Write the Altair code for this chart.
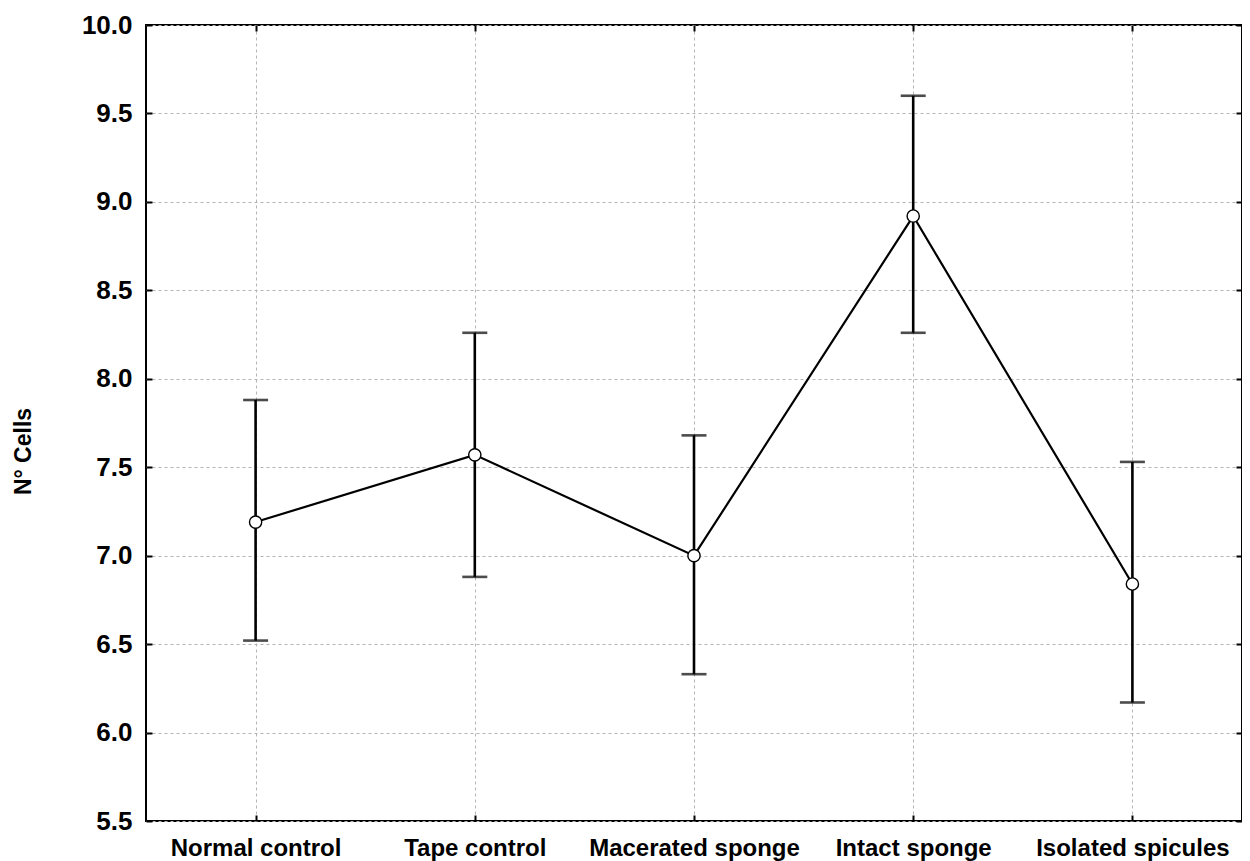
import altair as alt
import pandas as pd

categories = ["Normal control", "Tape control", "Macerated sponge", "Intact sponge", "Isolated spicules"]
means = [7.19, 7.57, 7.00, 8.92, 6.84]
upper = [7.88, 8.26, 7.68, 9.60, 7.53]
lower = [6.52, 6.88, 6.33, 8.26, 6.17]
y_ticks = [5.5, 6.0, 6.5, 7.0, 7.5, 8.0, 8.5, 9.0, 9.5, 10.0]

df = pd.DataFrame({"cat": categories, "mean": means, "upper": upper, "lower": lower})

FONT = "Liberation Sans"
xscale = alt.Scale(type="point", domain=categories, padding=0.5)
yscale = alt.Scale(domain=[5.5, 10.0], nice=False, zero=False)

x_bottom = alt.X("cat:N", sort=categories, scale=xscale, title=None,
                 axis=alt.Axis(orient="bottom", labelAngle=0, grid=True, domain=False,
                               ticks=True, tickSize=6, offset=-6, labelPadding=15, labelLimit=0,
                               labelFontSize=24, labelFont=FONT, labelFontWeight="bold",
                               labelColor="black"))
y_left = alt.Y("mean:Q", scale=yscale, title="N° Cells",
               axis=alt.Axis(orient="left", values=y_ticks, format=".1f", grid=True, domain=False,
                             ticks=True, tickSize=6, offset=-6, labelPadding=14,
                             labelFontSize=26, labelFont=FONT, labelFontWeight="bold",
                             labelColor="black", titleFontSize=23, titleFont=FONT,
                             titleFontWeight="bold", titleColor="black", titlePadding=46,
                             titleY=426))

x_top = alt.X("cat:N", sort=categories, scale=xscale, title=None,
              axis=alt.Axis(orient="top", labels=False, grid=False, domain=False,
                            ticks=True, tickSize=6, offset=-6))
y_right = alt.Y("mean:Q", scale=yscale, title=None,
                axis=alt.Axis(orient="right", values=y_ticks, labels=False, grid=False,
                              domain=False, ticks=True, tickSize=6, offset=-6))

x_none = alt.X("cat:N", sort=categories, scale=xscale, axis=None)

base = alt.Chart(df)

rules = base.mark_rule(color="black", strokeWidth=2.6).encode(
    x=x_bottom, y=y_left, y2="upper:Q"
)
rules_low = base.mark_rule(color="black", strokeWidth=2.6).encode(
    x=x_none, y=alt.Y("lower:Q", scale=yscale, axis=None), y2="mean:Q"
)
caps_up = base.mark_tick(color="black", thickness=2.6, size=25, orient="horizontal").encode(
    x=x_none, y=alt.Y("upper:Q", scale=yscale, axis=None)
)
caps_low = base.mark_tick(color="black", thickness=2.6, size=25, orient="horizontal").encode(
    x=x_none, y=alt.Y("lower:Q", scale=yscale, axis=None)
)
line = base.mark_line(color="black", strokeWidth=2.2).encode(
    x=x_top, y=y_right
)
points = base.mark_point(shape="circle", filled=True, fill="white", stroke="black",
                         strokeWidth=1.4, size=150, opacity=1).encode(
    x=x_none, y=alt.Y("mean:Q", scale=yscale, axis=None)
)

chart = alt.layer(rules, rules_low, caps_up, caps_low, line, points).resolve_axis(
    x="independent", y="independent"
).properties(
    width=1096, height=796,
    autosize=alt.AutoSizeParams(type="none"),
    padding={"left": 138, "top": 17, "right": 0, "bottom": 40},
).configure_view(
    stroke="black", strokeWidth=2
).configure_axis(
    gridColor="#b4b4b4", gridDash=[3, 3], gridWidth=1, tickColor="black", tickWidth=2
)

chart.save("out.html", embed_options={"renderer": "svg", "actions": False})
